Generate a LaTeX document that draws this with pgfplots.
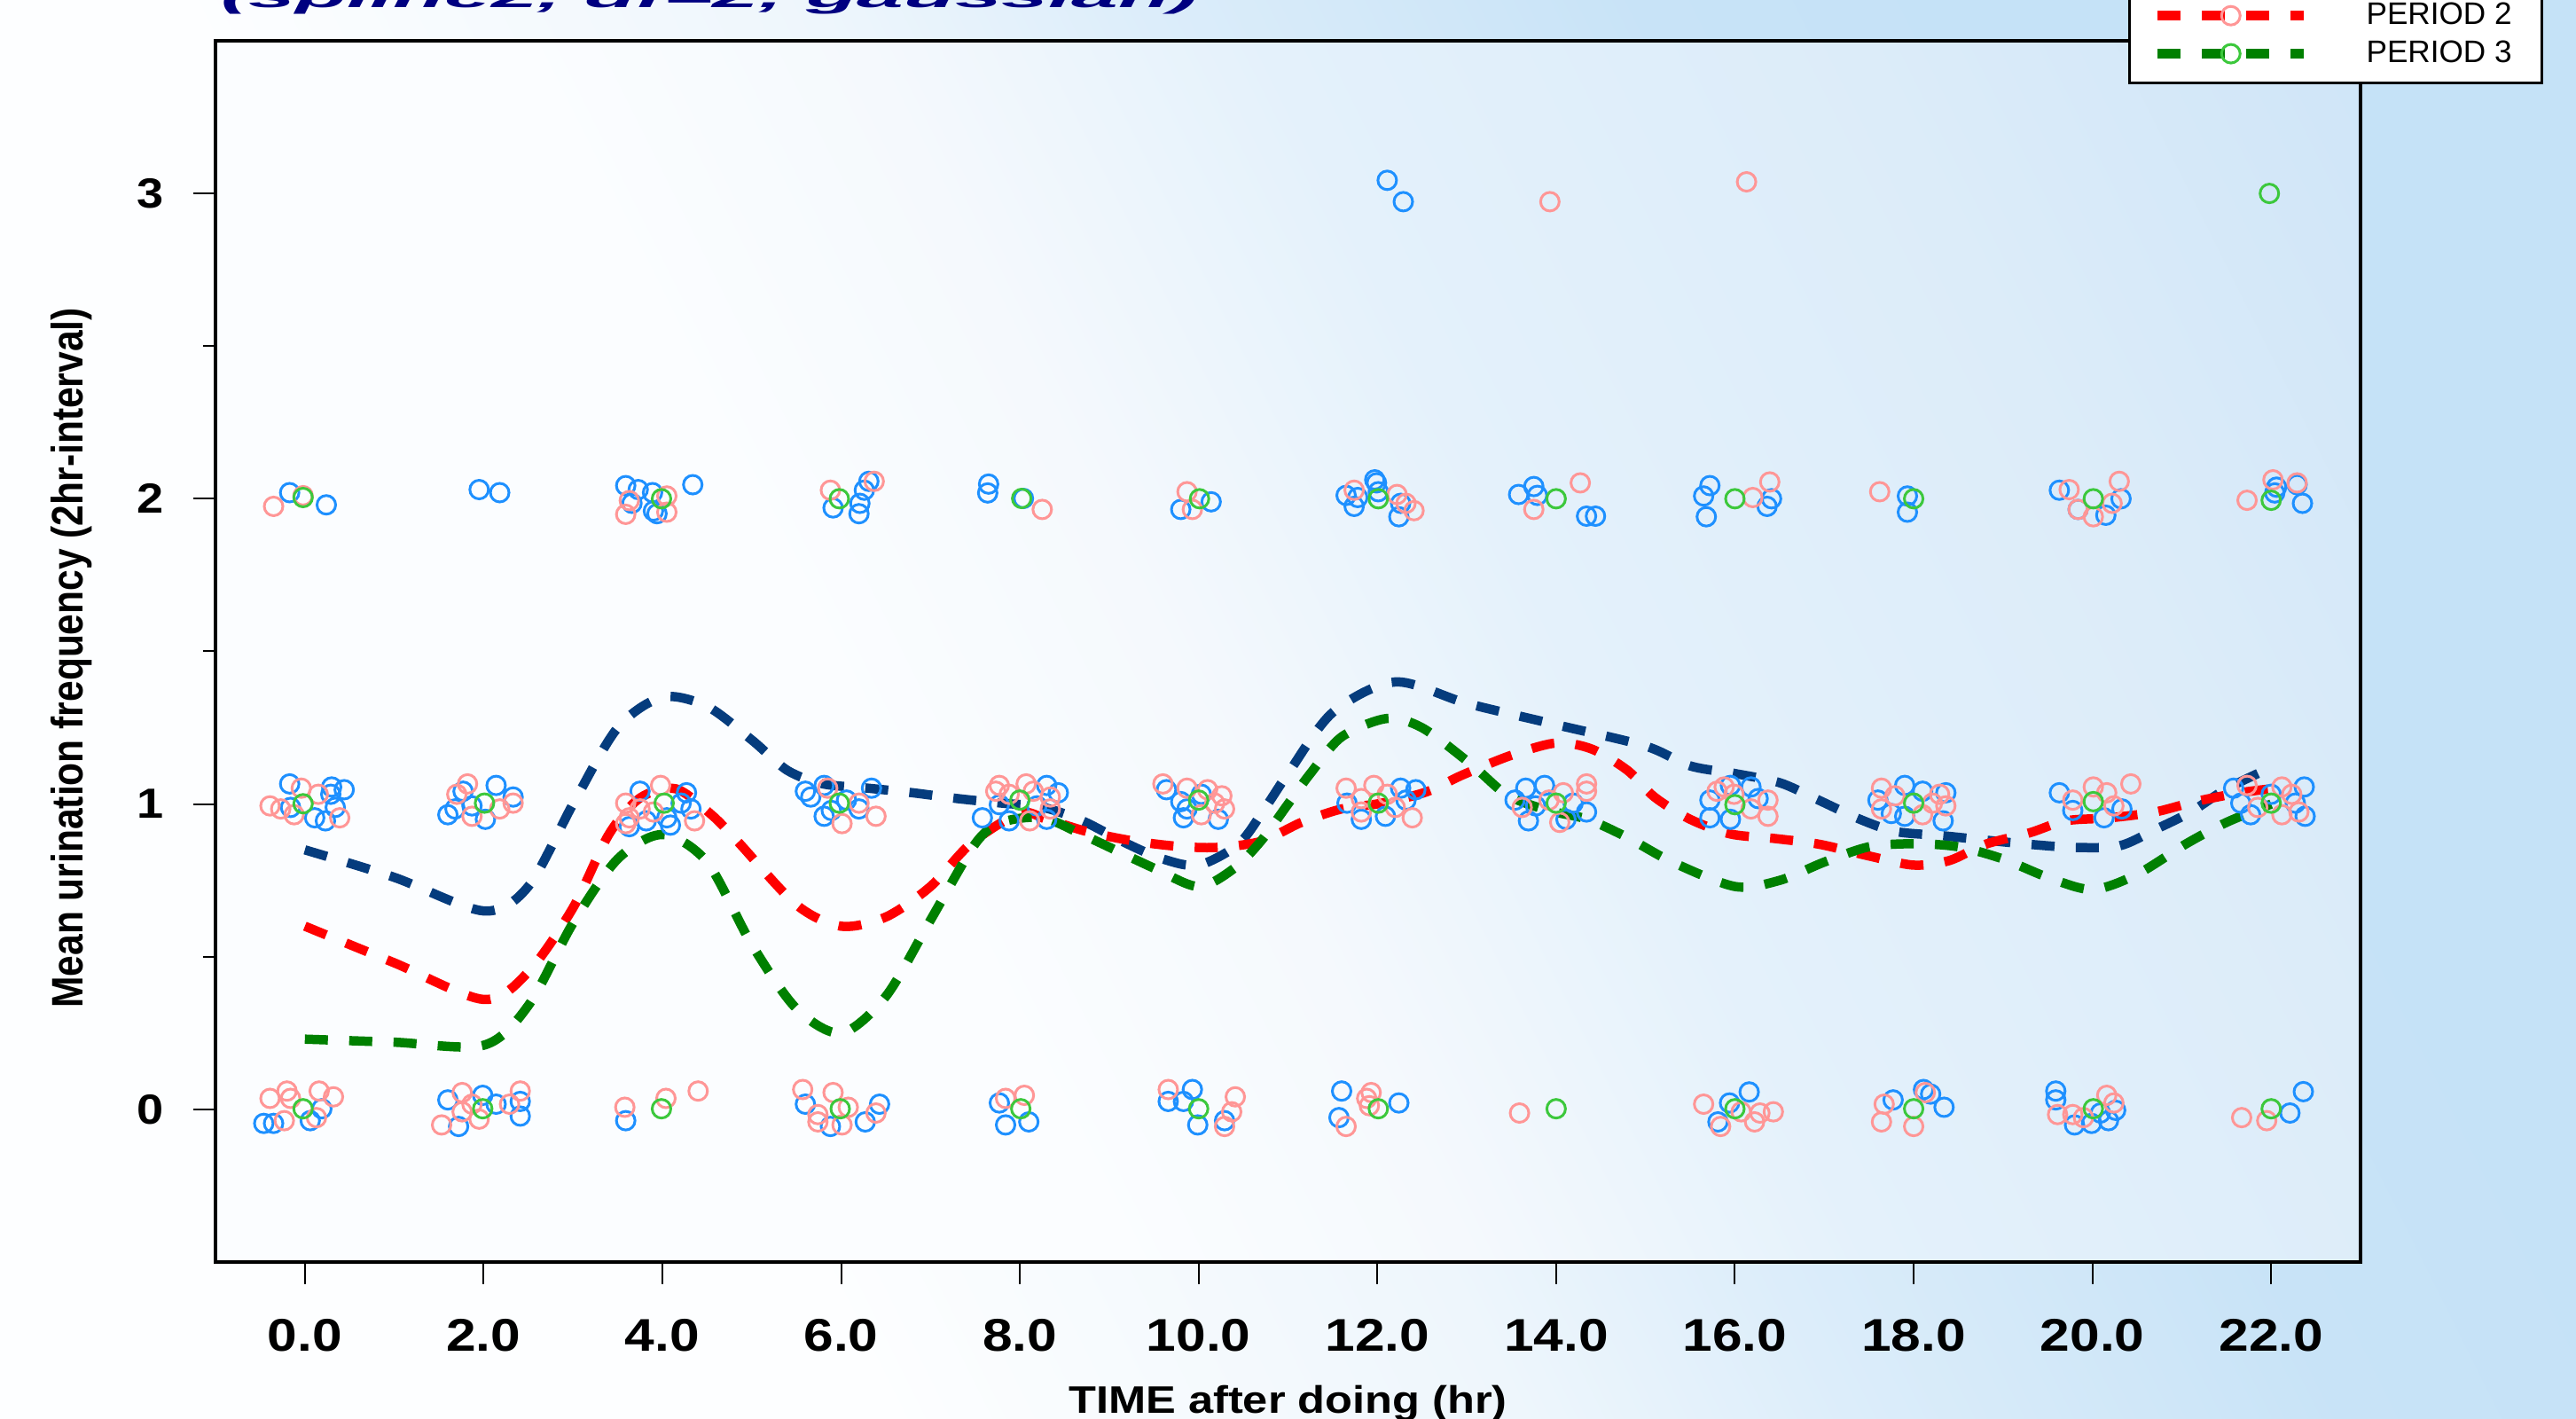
\documentclass[border=0pt]{standalone}
\usepackage{fontspec}
\setmainfont{Liberation Sans}
\usepackage{pgfplots}
\pgfplotsset{compat=1.18}
\definecolor{p1line}{RGB}{5,60,125}
\definecolor{p2line}{RGB}{255,0,0}
\definecolor{p3line}{RGB}{0,128,0}
\definecolor{p1pt}{RGB}{30,144,255}
\definecolor{p2pt}{RGB}{255,150,150}
\definecolor{p3pt}{RGB}{60,200,60}
\definecolor{titlecol}{RGB}{0,0,128}
\definecolor{bgc0}{RGB}{253,254,255}
\definecolor{bgc1}{RGB}{238,246,252}
\definecolor{bgc2}{RGB}{220,237,250}
\definecolor{bgc3}{RGB}{200,227,247}
\definecolor{bgc4}{RGB}{197,226,247}
\definecolor{inc0}{RGB}{251,253,255}
\definecolor{inc1}{RGB}{245,249,253}
\definecolor{inc2}{RGB}{228,241,251}
\definecolor{inc3}{RGB}{220,236,249}
\definecolor{inc4}{RGB}{207,229,248}
\definecolor{inc5}{RGB}{200,227,247}
\pgfdeclarehorizontalshading{bgshade}{100bp}{color(0bp)=(bgc0); color(39.1bp)=(bgc0); color(48.3bp)=(bgc1); color(53.05bp)=(bgc2); color(60.2bp)=(bgc3); color(64.7bp)=(bgc4); color(100bp)=(bgc4)}
\pgfdeclarehorizontalshading{inshade}{100bp}{color(0bp)=(inc0); color(43.6bp)=(inc0); color(48.7bp)=(inc1); color(54.5bp)=(inc2); color(63.1bp)=(inc3); color(70.5bp)=(inc4); color(76.9bp)=(inc5); color(100bp)=(inc5)}
\begin{document}
\begin{tikzpicture}
\useasboundingbox (0,0) rectangle (29.05,16);
\begin{scope}[transform canvas={xslant=-0.5}]
\shade[shading=bgshade] (-1,0) rectangle (38,16);
\end{scope}
\begin{scope}
\clip (2.43,1.77) rectangle (26.62,15.54);
\begin{scope}[transform canvas={xslant=-0.5}]
\shade[shading=inshade] (-1,0) rectangle (38,16);
\end{scope}
\end{scope}
\node[anchor=base, text=titlecol, font=\fontsize{23}{26}\selectfont\bfseries\itshape, xscale=1.17, yscale=0.45, inner sep=0pt] at (8.0,15.91) {(spline2, df=2, gaussian)};
\begin{axis}[
  at={(2.43cm,1.77cm)}, anchor=south west,
  width=24.19cm, height=13.77cm, scale only axis,
  xmin=-1, xmax=23, ymin=-0.5, ymax=3.5,
  xtick={0,2,4,6,8,10,12,14,16,18,20,22},
  xticklabels={0.0,2.0,4.0,6.0,8.0,10.0,12.0,14.0,16.0,18.0,20.0,22.0},
  ytick={0,1,2,3}, yticklabels={0,1,2,3},
  minor ytick={0.5,1.5,2.5},
  xtick pos=left, ytick pos=left,
  tick align=outside,
  major tick length=0.25cm, minor tick length=0.14cm,
  tick style={black, line width=0.02cm},
  axis line style={black, line width=0.035cm},
  /pgf/number format/assume math mode=true,
  xticklabel style={font=\fontsize{14.7}{16}\selectfont\bfseries, xscale=1.17, anchor=north, inner sep=0pt},
  yticklabel style={font=\fontsize{13.5}{15}\selectfont\bfseries, xscale=1.14, anchor=east, inner sep=0pt},
  xticklabel shift=0.39cm,
  yticklabel shift=0.33cm,
  xlabel={TIME after doing (hr)},
  ylabel={Mean urination frequency (2hr-interval)},
  every axis x label/.style={at={(axis description cs:0.5,-0.1235)}, anchor=base, font=\fontsize{12.3}{14}\selectfont\bfseries, xscale=1.17, inner sep=0pt},
  every axis y label/.style={at={(axis description cs:-0.0616,0.4946)}, anchor=base, rotate=90, yscale=1.17, font=\fontsize{12.1}{14}\selectfont\bfseries, inner sep=0pt},
  legend image code/.code={\draw[mark repeat=2,mark phase=2,#1] plot coordinates {(0cm,0cm) (0.825cm,0cm) (1.65cm,0cm)};},
  legend cell align=left,
  legend style={at={(axis description cs:1.0852,0.9644)}, anchor=south east, draw=black, line width=0.03cm, fill=white, inner xsep=0.27cm, inner ysep=0.11cm, column sep=0.58cm, row sep=-0.01cm, font=\fontsize{10}{12}\selectfont},
  clip=true,
]
\addlegendimage{p1line, line width=0.105cm, dash pattern=on 0.26cm off 0.24cm, mark=o, mark size=0.105cm, mark options={solid, draw=p1pt, line width=0.03cm}}
\addlegendentry{PERIOD 1}
\addlegendimage{p2line, line width=0.105cm, dash pattern=on 0.26cm off 0.24cm, mark=o, mark size=0.105cm, mark options={solid, draw=p2pt, line width=0.03cm}}
\addlegendentry{PERIOD 2}
\addlegendimage{p3line, line width=0.105cm, dash pattern=on 0.26cm off 0.24cm, mark=o, mark size=0.105cm, mark options={solid, draw=p3pt, line width=0.03cm}}
\addlegendentry{PERIOD 3}
% PERIOD 1 points
\addplot[forget plot, only marks, mark=o, mark size=0.105cm, draw=p1pt, mark options={line width=0.03cm}] table {
x y
-0.17 2.02
0.24 1.98
1.95 2.03
2.18 2.02
3.59 2.043
3.73 2.03
3.89 2.02
3.66 1.985
4.34 2.046
3.90 1.96
3.94 1.951
6.26 2.028
6.31 2.057
6.21 1.985
5.91 1.97
6.20 1.951
7.65 2.048
7.64 2.019
8.04 2.001
10.14 1.99
9.80 1.965
11.65 2.011
11.78 2.004
11.97 2.062
11.99 2.052
12.01 2.023
12.26 1.985
12.24 1.941
11.74 1.975
13.58 2.014
13.75 2.04
13.79 2.011
14.34 1.943
14.44 1.943
15.72 2.043
15.65 2.009
15.68 1.941
16.41 2.0
16.36 1.975
17.93 2.009
17.93 1.956
19.63 2.028
20.32 2.0
19.84 1.965
20.15 1.946
22.06 2.038
22.04 2.019
22.29 2.046
22.35 1.985
12.11 3.043
12.29 2.973
-0.17 1.066
0.30 1.056
0.44 1.047
-0.16 0.989
0.34 0.989
0.11 0.955
0.23 0.945
0.29 1.032
2.14 1.061
1.77 1.042
1.68 0.984
1.87 0.994
2.33 1.023
2.02 0.95
1.60 0.965
3.75 1.042
4.27 1.037
4.21 1.003
4.32 0.984
3.82 0.945
4.05 0.955
4.09 0.931
3.63 0.926
5.60 1.042
5.81 1.061
6.34 1.052
5.66 1.023
6.06 1.013
5.89 0.979
5.81 0.96
6.20 0.984
8.30 1.061
8.43 1.037
7.77 0.998
8.19 0.994
7.58 0.955
7.88 0.945
8.30 0.95
9.64 1.047
9.80 1.008
9.87 0.984
9.83 0.955
10.22 0.95
10.03 1.032
12.26 1.052
12.43 1.047
11.66 1.003
12.32 1.013
11.82 0.95
12.09 0.96
13.66 1.052
13.87 1.061
13.54 1.013
13.77 0.994
14.19 1.003
13.69 0.945
14.11 0.95
14.34 0.974
15.95 1.061
16.18 1.056
15.72 1.013
16.26 1.018
15.72 0.955
15.95 0.95
17.90 1.061
18.10 1.042
17.60 1.013
18.36 1.037
17.75 0.969
18.33 0.945
17.90 0.96
19.63 1.037
20.33 0.984
19.78 0.979
20.13 0.955
21.58 1.052
22.37 1.056
22.00 1.032
21.66 1.003
22.27 1.003
22.38 0.96
21.77 0.965
0.19 0.002
-0.46 -0.046
-0.35 -0.046
0.06 -0.037
1.60 0.031
1.99 0.046
2.41 0.026
2.14 0.017
2.41 -0.022
1.72 -0.056
3.59 -0.037
5.60 0.017
6.43 0.017
6.27 -0.041
5.88 -0.056
7.77 0.021
7.84 -0.051
8.10 -0.041
9.93 0.065
9.66 0.026
9.83 0.026
10.29 -0.037
9.99 -0.051
11.60 0.06
12.24 0.021
11.57 -0.027
16.16 0.057
15.94 0.021
15.81 -0.041
18.11 0.065
18.19 0.05
17.77 0.031
18.34 0.007
19.59 0.06
19.59 0.031
20.26 -0.003
20.09 -0.012
19.99 -0.046
19.80 -0.051
20.18 -0.037
22.36 0.058
22.21 -0.012
};
% PERIOD 2 points
\addplot[forget plot, only marks, mark=o, mark size=0.105cm, draw=p2pt, mark options={line width=0.03cm}] table {
x y
-0.35 1.975
-0.02 2.01
3.63 1.994
4.05 2.009
3.59 1.949
4.05 1.956
5.88 2.028
6.37 2.057
8.25 1.965
9.87 2.023
9.93 1.965
11.74 2.028
12.22 2.014
12.32 1.985
12.41 1.961
14.27 2.052
13.75 1.965
16.20 2.004
16.39 2.055
17.62 2.023
19.74 2.03
20.30 2.057
20.22 1.985
19.84 1.965
20.01 1.941
22.02 2.062
22.29 2.052
21.73 1.995
13.93 2.973
16.13 3.038
-0.04 1.052
-0.39 0.994
-0.27 0.984
0.15 1.032
0.39 0.955
-0.12 0.965
1.82 1.066
1.70 1.032
2.33 1.003
1.87 0.96
2.18 0.984
3.98 1.061
3.59 1.003
3.75 0.984
3.63 0.955
3.90 0.974
4.36 0.945
3.59 0.936
5.85 1.052
6.20 1.003
6.39 0.96
6.01 0.936
7.77 1.061
8.07 1.066
7.73 1.042
7.88 1.032
8.15 1.042
8.34 1.023
8.11 0.945
8.34 0.984
9.60 1.066
9.87 1.052
10.10 1.047
10.26 1.027
10.18 1.003
10.29 0.984
10.03 0.965
11.65 1.052
11.96 1.061
11.82 1.018
12.11 1.032
11.82 0.974
12.39 0.955
12.20 0.989
14.34 1.066
14.34 1.042
14.08 1.037
13.62 0.989
14.04 0.94
13.92 1.013
15.88 1.056
15.80 1.042
15.99 1.032
16.37 1.013
16.18 0.984
16.37 0.96
17.64 1.052
17.79 1.027
18.29 1.032
18.21 1.003
17.64 0.984
18.36 0.994
18.10 0.965
20.01 1.056
20.43 1.066
20.16 1.037
19.78 1.013
20.24 0.994
21.73 1.061
22.12 1.056
22.23 1.032
21.85 0.989
22.31 0.974
22.12 0.965
-0.39 0.036
-0.20 0.06
-0.16 0.036
0.16 0.06
0.32 0.041
-0.23 -0.037
0.13 -0.027
1.76 0.055
2.41 0.06
2.29 0.017
1.76 -0.008
1.95 -0.032
1.53 -0.051
1.87 0.017
3.58 0.007
4.04 0.036
4.40 0.06
5.57 0.065
5.91 0.055
5.74 -0.017
6.08 0.007
6.39 -0.012
5.74 -0.041
6.01 -0.051
7.84 0.036
8.05 0.046
9.66 0.065
10.41 0.041
10.37 -0.008
10.29 -0.056
11.93 0.055
11.88 0.036
11.91 0.012
11.65 -0.056
13.59 -0.012
15.65 0.017
16.07 -0.008
16.43 -0.008
16.28 -0.012
16.22 -0.041
15.84 -0.056
18.13 0.055
17.67 0.017
17.64 -0.041
18.00 -0.056
20.16 0.046
20.24 0.021
19.61 -0.017
19.78 -0.017
19.90 -0.027
21.67 -0.027
21.95 -0.037
};
% PERIOD 3 points
\addplot[forget plot, only marks, mark=o, mark size=0.105cm, draw=p3pt, mark options={line width=0.03cm}] table {
x y
-0.02 2.004
3.99 2.0
5.98 2.0
8.02 2.001
10.01 2.0
12.01 2.0
14.00 2.0
16.00 2.0
18.00 2.0
20.01 2.0
22.00 1.995
21.98 3.0
-0.02 1.001
2.01 1.003
4.02 1.003
5.98 1.003
8.00 1.013
10.00 1.013
12.01 1.003
14.00 1.003
16.00 0.998
18.00 1.003
20.01 1.008
22.00 1.003
-0.02 0.002
1.99 0.002
3.99 0.002
5.99 0.002
8.01 0.002
10.00 0.002
12.01 0.002
14.00 0.002
16.00 0.002
18.00 0.002
20.01 0.002
22.00 0.002
};
% smooth curves
\addplot[forget plot, smooth, p1line, line width=0.105cm, dash pattern=on 0.26cm off 0.24cm] coordinates {
(0,0.85) (1,0.76) (2,0.65) (2.5,0.73) (3,1.0) (3.5,1.25) (4,1.35) (4.5,1.32) (5,1.21) (5.4,1.11) (5.8,1.066) (6.3,1.052) (6.8,1.037) (7.3,1.018) (7.8,1.003) (8.25,0.99) (8.7,0.945) (9.2,0.87) (9.6,0.82) (10,0.80) (10.45,0.87) (10.75,0.99) (11,1.10) (11.5,1.30) (12.2,1.40) (13,1.33) (14,1.26) (15,1.19) (15.5,1.125) (16,1.10) (16.5,1.07) (16.9,1.018) (17.4,0.95) (17.8,0.91) (18.3,0.897) (18.8,0.882) (19.3,0.868) (19.8,0.858) (20.3,0.863) (20.7,0.916) (21.1,0.974) (21.5,1.05) (22,1.12)
};
\addplot[forget plot, smooth, p2line, line width=0.105cm, dash pattern=on 0.26cm off 0.24cm] coordinates {
(0,0.60) (1,0.48) (2,0.36) (2.5,0.45) (3,0.66) (3.4,0.90) (3.75,1.02) (4.15,1.05) (4.55,0.965) (4.85,0.875) (5.5,0.67) (6,0.60) (6.5,0.63) (7,0.73) (7.45,0.87) (8,0.97) (8.3,0.95) (8.75,0.91) (9.25,0.88) (9.75,0.862) (10.2,0.858) (10.7,0.878) (11.15,0.94) (11.6,0.984) (12.05,1.003) (12.55,1.04) (12.95,1.095) (13.5,1.16) (14,1.20) (14.4,1.18) (14.8,1.11) (15.1,1.023) (15.5,0.95) (15.95,0.902) (16.45,0.887) (16.95,0.868) (17.5,0.83) (18,0.80) (18.4,0.815) (18.8,0.868) (19.3,0.906) (19.7,0.945) (20.2,0.955) (20.7,0.974) (21.15,1.008) (21.65,1.037) (22,1.05)
};
\addplot[forget plot, smooth, p3line, line width=0.105cm, dash pattern=on 0.26cm off 0.24cm] coordinates {
(0,0.23) (1,0.22) (2,0.21) (2.5,0.34) (3,0.61) (3.5,0.82) (4,0.90) (4.5,0.81) (5,0.54) (5.5,0.33) (6,0.25) (6.5,0.37) (7,0.62) (7.5,0.87) (7.8,0.94) (8.25,0.955) (8.7,0.90) (9.5,0.79) (10,0.73) (10.4,0.79) (10.7,0.88) (11,1.0) (11.25,1.10) (11.6,1.22) (12.1,1.28) (12.5,1.25) (13.05,1.13) (13.45,1.03) (13.9,0.98) (14.35,0.95) (14.8,0.89) (15.3,0.81) (16,0.73) (16.5,0.75) (17,0.81) (17.5,0.86) (18,0.87) (18.5,0.86) (19,0.82) (19.5,0.76) (20,0.72) (20.5,0.77) (21.05,0.87) (21.5,0.94) (22,1.0)
};
\end{axis}
\end{tikzpicture}
\end{document}
